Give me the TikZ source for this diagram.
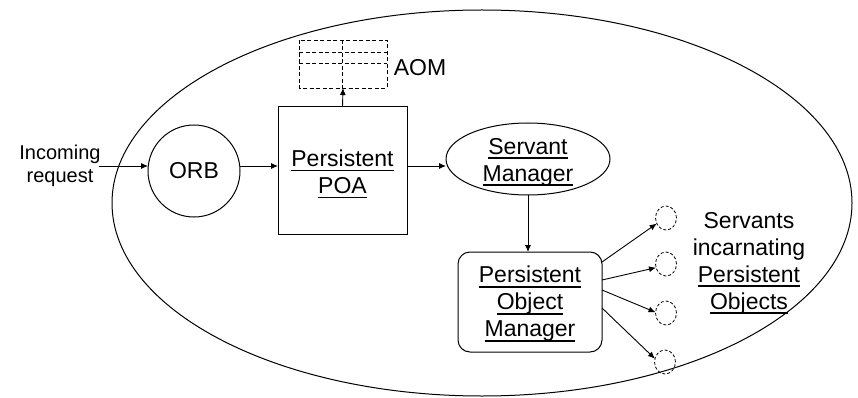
\documentclass[tikz,border=0pt]{standalone}
\usepackage{fontspec}
\setmainfont{Liberation Sans}
\usetikzlibrary{arrows.meta,shapes.geometric}
% underline at a fixed depth below the baseline
\newsavebox\ulbox
\newcommand\uword[1]{\sbox\ulbox{#1}\rlap{\rule[-5pt]{\wd\ulbox}{1.8pt}}\usebox\ulbox}

\begin{document}
\begin{tikzpicture}[x=1pt,y=-1pt,
  every node/.style={inner sep=0pt, outer sep=0pt},
  txt/.style={font=\fontsize{23}{27}\selectfont, align=center},
  small/.style={font=\fontsize{20}{23}\selectfont, align=center},
  outline/.style={draw, line width=1pt},
  conn/.style={-{Latex[length=7pt,width=6pt]}, line width=0.9pt},
  griddash/.style={dash pattern=on 4pt off 2.5pt, line width=0.9pt},
  ghost/.style={draw, ellipse, dash pattern=on 3pt off 2pt, line width=0.8pt,
                minimum width=21pt, minimum height=24pt},
]
\useasboundingbox (0,0) rectangle (858,398);

% enclosing process boundary
\draw[line width=1pt] (482,203) ellipse [x radius=370pt, y radius=193pt];

% level of the request path
\coordinate (lvl) at (0,166);

% incoming request and ORB
\node[small] (inc) at (60,166) {Incoming\\request};
\node[outline, circle, minimum size=92pt] (orb) at (194,171) {};
\node[txt] (orbt) at (194,171) {ORB};

% persistent POA
\node[outline, rectangle, minimum width=129pt, minimum height=127pt] (poa) at (342.5,170.5) {};
\node[txt] (poat) at (342.5,174) {\uword{Persistent}\\\uword{POA}};

% active object map
\node[rectangle, minimum width=88pt, minimum height=48pt] (aom) at (343,64) {};
\draw[griddash] (299,40) rectangle (387,88);
\draw[griddash] (299,52) -- (387,52);
\draw[griddash] (299,63) -- (387,63);
\draw[griddash] (342,40) -- (342,88);
\node[txt] (aomt) at (420,68) {AOM};

% servant manager
\node[outline, ellipse, minimum width=164pt, minimum height=72pt] (sm) at (528,159) {};
\node[txt] (smt) at (528,162) {\uword{Servant}\\\uword{Manager}};

% persistent object manager
\node[outline, rectangle, rounded corners=12pt, minimum width=144pt, minimum height=100pt] (pom) at (530,302) {};
\node[txt] (pomt) at (530,304) {\uword{Persistent}\\\uword{Object}\\\uword{Manager}};

% servants
\node[ghost] (c1) at (666,218) {};
\node[ghost] (c2) at (666,264) {};
\node[ghost] (c3) at (666,313) {};
\node[ghost] (c4) at (665,362) {};
\node[txt] (srv) at (749,263) {Servants\\incarnating\\\uword{Persistent}\\\uword{Objects}};

% connectors
\draw[conn] ([xshift=-2pt]inc.east |- lvl) -- (orb.west |- lvl);
\draw[conn] (orb.east |- lvl) -- (poa.west |- lvl);
\draw[conn] (poa.east |- lvl) -- (sm.west |- lvl);
\draw[conn] (poa.north) -- (aom.south);
\draw[conn] (sm.south) -- (sm.south |- pom.north);
\draw[conn] ([yshift=40pt]pom.east) -- (c1.211);
\draw[conn] ([yshift=22pt]pom.east) -- (c2.200);
\draw[conn] ([yshift=12pt]pom.east) -- (c3.176);
\draw[conn] ([yshift=-6pt]pom.east) -- (c4.162);
\end{tikzpicture}
\end{document}
